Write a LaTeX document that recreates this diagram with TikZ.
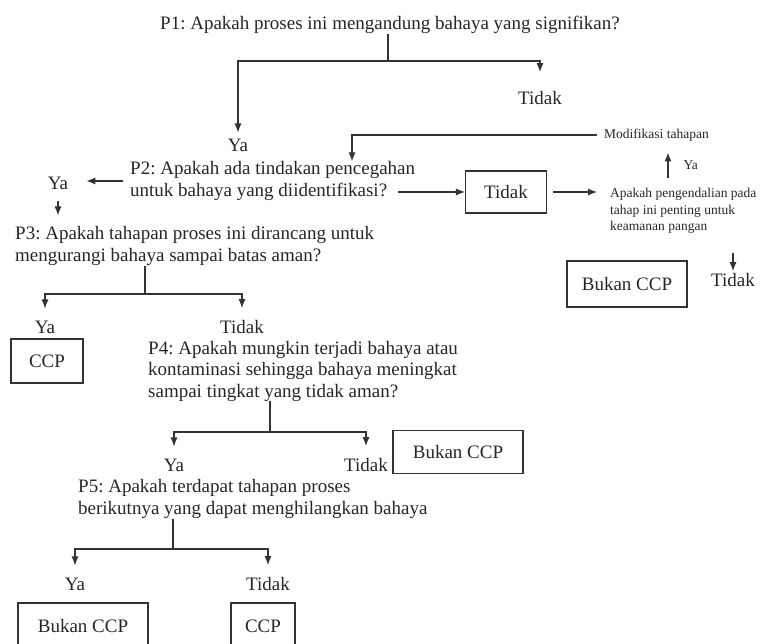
\documentclass[tikz,border=0pt]{standalone}
\usepackage{fontspec}
\setmainfont{Liberation Serif}
\usetikzlibrary{arrows.meta,positioning}
\frenchspacing

\begin{document}
\begin{tikzpicture}[x=1pt, y=-1pt,
    every node/.style={text=black!85},
    txt/.style={font=\fontsize{19}{21.5}\selectfont, inner sep=0pt, align=left},
    note/.style={font=\fontsize{13.5}{16.5}\selectfont, inner sep=0pt, align=left},
    lbl/.style={font=\fontsize{19}{21.5}\selectfont, inner sep=2pt},
    outcome/.style={draw=black!80, line width=1.1pt, font=\fontsize{19}{21.5}\selectfont, inner sep=0pt},
    link/.style={draw=black!80, line width=1.1pt},
    flow/.style={link, -{Latex[length=9pt,width=7pt]}}
]
    \clip (0,0) rectangle (765,644);

    % P1: significant hazard?
    \node[txt] (p1) at (390,25) {P1: Apakah proses ini mengandung bahaya yang signifikan?};
    \coordinate (j1) at (388,61);
    \node[lbl] (ya1) at (238,145) {Ya};
    \node[lbl] (tidak1) at (540,98) {Tidak};
    \draw[link] (p1.south -| j1) -- (j1);
    \draw[flow, shorten >=4pt] (j1) -| (ya1);
    \draw[flow, shorten >=17pt] (j1) -| (tidak1);

    % P2: control measures?
    \node[txt, anchor=west] (p2) at (130,181) {P2: Apakah ada tindakan pencegahan\\untuk bahaya yang diidentifikasi?};
    \node[note, anchor=west] (mod) at (604,135) {Modifikasi tahapan};
    \coordinate (m1) at (352,135);
    \draw[flow, shorten <=7pt] (mod.west) -- (m1) -- (m1 |- p2.north);
    \node[lbl] (ya2) at (58,183) {Ya};
    \draw[flow, shorten <=7pt, shorten >=16pt] (p2.west) -- (p2.west -| ya2.east);
    \node[outcome, minimum width=81pt, minimum height=42pt] (tb) at (506,192) {Tidak};
    \draw[flow, shorten <=-17pt] (p2.east |- tb.west) -- (tb.west);

    % control at this step necessary?
    \node[note, anchor=west] (q) at (610,211) {Apakah pengendalian pada\\tahap ini penting untuk\\keamanan pangan};
    \draw[flow, shorten <=6pt, shorten >=13pt] (tb.east) -- (tb.east -| q.west);
    \coordinate (qy) at (668,165);
    \draw[flow, shorten <=10pt, shorten >=11pt] (qy |- q.north) -- (qy |- mod.south)
        node[note, midway, right=15pt] (ya6) {Ya};
    \node[lbl] (tidak2) at (733,280) {Tidak};
    \draw[flow, shorten <=19pt] (tidak2 |- q.south) -- (tidak2);
    \node[outcome, minimum width=120pt, minimum height=46pt] (bk1) at (627,284) {Bukan CCP};

    % P3: designed to reduce hazard?
    \node[txt, anchor=west] (p3) at (15,246) {P3: Apakah tahapan proses ini dirancang untuk\\mengurangi bahaya sampai batas aman?};
    \draw[flow, shorten <=9pt, shorten >=11pt] (ya2.south) -- (ya2.south |- p3.north);
    \coordinate (j3) at (145,294);
    \node[lbl] (ya3) at (45,327) {Ya};
    \node[lbl] (tidak3) at (242,327) {Tidak};
    \draw[link] (p3.south -| j3) -- (j3);
    \draw[flow, shorten >=10pt] (j3) -| (ya3);
    \draw[flow, shorten >=10pt] (j3) -| (tidak3);
    \node[outcome, minimum width=72pt, minimum height=44pt] (ccp1) at (47,361) {CCP};

    % P4: contamination up to unacceptable level?
    \node[txt, anchor=west] (p4) at (148,371) {P4: Apakah mungkin terjadi bahaya atau\\kontaminasi sehingga bahaya meningkat\\sampai tingkat yang tidak aman?};
    \coordinate (j4) at (270,432);
    \node[lbl] (ya4) at (174,465) {Ya};
    \node[lbl] (tidak4) at (366,465) {Tidak};
    \draw[link] (p4.south -| j4) -- (j4);
    \draw[flow, shorten >=10pt] (j4) -| (ya4);
    \draw[flow, shorten >=10pt] (j4) -| (tidak4);
    \node[outcome, minimum width=130pt, minimum height=43pt] (bk2) at (458,452) {Bukan CCP};

    % P5: later step eliminates hazard?
    \node[txt, anchor=west] (p5) at (78,499) {P5: Apakah terdapat tahapan proses\\berikutnya yang dapat menghilangkan bahaya};
    \coordinate (j5) at (173,549);
    \node[lbl] (ya5) at (75,584) {Ya};
    \node[lbl] (tidak5) at (268,584) {Tidak};
    \draw[link] (p5.south -| j5) -- (j5);
    \draw[flow, shorten >=10pt] (j5) -| (ya5);
    \draw[flow, shorten >=10pt] (j5) -| (tidak5);
    \node[outcome, minimum width=130pt, minimum height=46pt] (bk3) at (83,626) {Bukan CCP};
    \node[outcome, minimum width=64pt, minimum height=46pt] (ccp2) at (263,626) {CCP};
\end{tikzpicture}
\end{document}
